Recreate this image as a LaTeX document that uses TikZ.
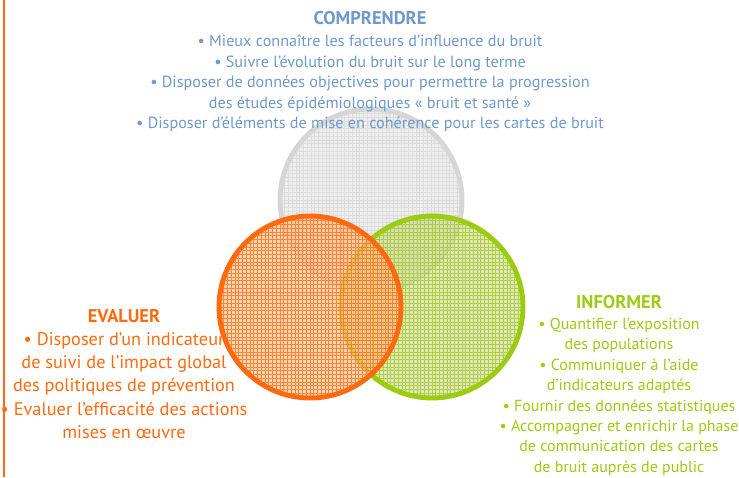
\documentclass[tikz,border=0pt]{standalone}
\usepackage{fontspec}
\setmainfont{PT Sans}
\usepackage{tikz}
\usetikzlibrary{positioning}
\definecolor{bleu}{HTML}{6F98CC}
\definecolor{orangeC}{HTML}{FF6A10}
\definecolor{orangefond}{HTML}{FFBE88}
\definecolor{vert}{HTML}{9CCB12}
\definecolor{vertfond}{HTML}{D6DAA8}
\definecolor{gris}{HTML}{D6D6D6}
\definecolor{grisfond}{HTML}{EEEEEE}

\begin{document}
\begin{tikzpicture}[line cap=round,line join=round,x=0.02cm,y=-0.02cm,
  titre/.style={font=\bfseries\fontsize{10.5}{12}\selectfont,inner sep=0pt},
  corps/.style={align=center,inner sep=0pt},
  cercle/.style={circle,minimum size=3.64cm,inner sep=0pt,line width=2.8pt},
  trame/.style={path picture={\draw[#1,line width=0.4pt,draw opacity=0.75,step=0.075cm]
    (path picture bounding box.south west) grid (path picture bounding box.north east);}}]
\useasboundingbox (0,0) rectangle (739,477);
% evaluer, sous le cercle orange
\node[titre,text=orangeC] (evaluer) at (124,316) {EVALUER};
\node[corps,text=orangeC,font=\fontsize{10.4}{13.3}\selectfont,below=5pt of evaluer] (evaluerTxt)
  {\textbullet{} Disposer d’un indicateur\\
   de suivi de l’impact global\\
   des politiques de prévention\\
   \textbullet{} Evaluer l’efficacité des actions\\
   mises en œuvre};
% les trois cercles
\node[cercle,draw=gris,fill=grisfond,trame=gris] (cercleComprendre) at (371,200) {};
\node[cercle,draw=vert,fill=vertfond,fill opacity=0.7,trame=vert] (cercleInformer) at (432,307) {};
\node[cercle,draw=orangeC,fill=orangefond,fill opacity=0.65,trame=orangeC] (cercleEvaluer) at (310,307) {};
% comprendre
\node[titre,text=bleu] (comprendre) at (370,18) {COMPRENDRE};
\node[corps,text=bleu,font=\fontsize{9.2}{11.6}\selectfont,below=5.5pt of comprendre] (comprendreTxt)
  {\textbullet{} Mieux connaître les facteurs d’influence du bruit\\
   \textbullet{} Suivre l’évolution du bruit sur le long terme\\
   \textbullet{} Disposer de données objectives pour permettre la progression\\
   des études épidémiologiques « bruit et santé »\\
   \textbullet{} Disposer d’éléments de mise en cohérence pour les cartes de bruit};
% informer
\node[titre,text=vert] (informer) at (619,302) {INFORMER};
\node[corps,text=vert,font=\fontsize{9.1}{11.6}\selectfont,below=5pt of informer] (informerTxt)
  {\textbullet{} Quantifier l’exposition\\
   des populations\\
   \textbullet{} Communiquer à l’aide\\
   d’indicateurs adaptés\\
   \textbullet{} Fournir des données statistiques\\
   \textbullet{} Accompagner et enrichir la phase\\
   de communication des cartes\\
   de bruit auprès de public};
% filet
\draw[orangeC,line width=1.7pt,line cap=butt] (4,0) -- (4,477);
\end{tikzpicture}
\end{document}
